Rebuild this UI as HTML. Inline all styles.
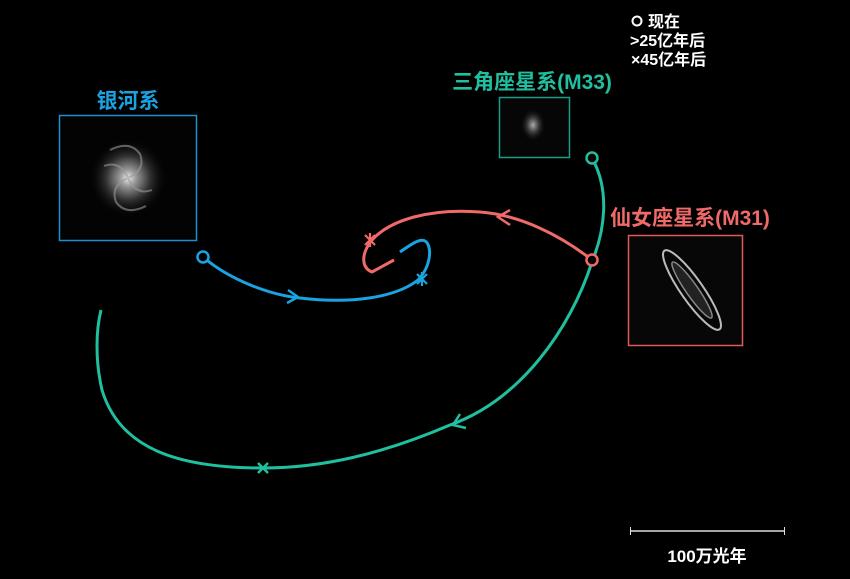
<!DOCTYPE html>
<html><head><meta charset="utf-8"><style>
html,body{margin:0;padding:0;background:#000;width:850px;height:579px;overflow:hidden}
svg{display:block}
text{font-family:"Liberation Sans","Noto Sans CJK SC",sans-serif;font-weight:bold}
</style></head><body>
<svg width="850" height="579" viewBox="0 0 850 579">
<defs>
<radialGradient id="mw" cx="50%" cy="50%" r="50%">
<stop offset="0" stop-color="#eee"/><stop offset="0.2" stop-color="#999"/><stop offset="0.55" stop-color="#333"/><stop offset="1" stop-color="#000" stop-opacity="0"/>
</radialGradient>
<radialGradient id="m33" cx="50%" cy="50%" r="50%">
<stop offset="0" stop-color="#aaa"/><stop offset="0.4" stop-color="#444"/><stop offset="1" stop-color="#000" stop-opacity="0"/>
</radialGradient>
</defs>
<rect width="850" height="579" fill="#000"/>

<!-- Milky Way -->
<text x="128" y="108" fill="#1aa3e0" font-size="21" text-anchor="middle">银河系</text>
<rect x="59.5" y="115.5" width="137" height="125" fill="#030303" stroke="#1a8fcc" stroke-width="1.5"/>
<circle cx="128" cy="178" r="40" fill="url(#mw)"/>
<path d="M128 178 q18 -8 12 -24 q-10 -14 -30 -4 M128 178 q-18 8 -12 24 q10 14 30 4 M128 178 q-8 -18 -24 -12 M128 178 q8 18 24 12" stroke="#999" stroke-width="2" fill="none" opacity="0.6"/>

<!-- M33 -->
<text x="532" y="89" fill="#1fbf9f" font-size="21" text-anchor="middle">三角座星系(M33)</text>
<rect x="499.5" y="97.5" width="70" height="60" fill="#060606" stroke="#1a9c85" stroke-width="1.5"/>
<ellipse cx="533" cy="125" rx="13" ry="17" fill="url(#m33)"/>

<!-- M31 -->
<text x="690" y="225" fill="#f06a6a" font-size="21" text-anchor="middle">仙女座星系(M31)</text>
<rect x="628.5" y="235.5" width="114" height="110" fill="#070707" stroke="#e05a5a" stroke-width="1.5"/>
<ellipse cx="692" cy="290" rx="48" ry="11" transform="rotate(55 692 290)" fill="none" stroke="#bbb" stroke-width="2"/>
<ellipse cx="692" cy="290" rx="34" ry="6" transform="rotate(55 692 290)" fill="#222" stroke="#888" stroke-width="1.5"/>

<!-- Legend -->
<circle cx="637" cy="21" r="4.5" fill="none" stroke="#fff" stroke-width="2"/>
<text x="648" y="27" fill="#fff" font-size="16">现在</text>
<text x="630" y="46" fill="#fff" font-size="16">&gt;25亿年后</text>
<text x="631" y="65" fill="#fff" font-size="16">×45亿年后</text>

<!-- Green path -->
<path d="M592 158 C610 190 605 230 592 262 C570 330 520 400 450 425 C380 455 320 468 263 468 C180 468 120 450 102 390 C95 360 96 330 101 310" fill="none" stroke="#1fbf9f" stroke-width="3"/>
<circle cx="592" cy="158" r="5.5" fill="#000" stroke="#1fbf9f" stroke-width="2.5"/>
<path d="M460 414 L453 425 L466 428" fill="none" stroke="#1fbf9f" stroke-width="2.5"/>
<path d="M258 463 l10 10 M268 463 l-10 10" stroke="#1fbf9f" stroke-width="2.5"/>

<!-- Red path -->
<path d="M592 260 C560 235 520 215 480 212 C430 208 390 220 372 240 C360 255 362 268 372 272 L394 260" fill="none" stroke="#f06a6a" stroke-width="3"/>
<circle cx="592" cy="260" r="5.5" fill="#000" stroke="#f06a6a" stroke-width="2.5"/>
<path d="M510 210 L498 217 L510 225" fill="none" stroke="#f06a6a" stroke-width="2.5"/>
<path d="M365 235 l10 10 M375 235 l-10 10 M370 233 v14" stroke="#f06a6a" stroke-width="2.2"/>

<!-- Blue path -->
<path d="M203 257 C230 280 270 295 300 298 C350 304 395 298 418 280 C432 265 432 245 425 241 C420 238 410 245 400 252" fill="none" stroke="#1aa3e0" stroke-width="3"/>
<circle cx="203" cy="257" r="5.5" fill="#000" stroke="#1aa3e0" stroke-width="2.5"/>
<path d="M288 290 L298 297 L287 303" fill="none" stroke="#1aa3e0" stroke-width="2.5"/>
<path d="M417 274 l10 10 M427 274 l-10 10 M422 272 v14" stroke="#1aa3e0" stroke-width="2.2"/>

<!-- Scale -->
<line x1="630" y1="531" x2="785" y2="531" stroke="#ddd" stroke-width="1.5"/>
<line x1="630.5" y1="527" x2="630.5" y2="535" stroke="#ddd" stroke-width="1"/>
<line x1="784.5" y1="527" x2="784.5" y2="535" stroke="#ddd" stroke-width="1"/>
<text x="707" y="562" fill="#fff" font-size="17" text-anchor="middle">100万光年</text>
</svg>
</body></html>
